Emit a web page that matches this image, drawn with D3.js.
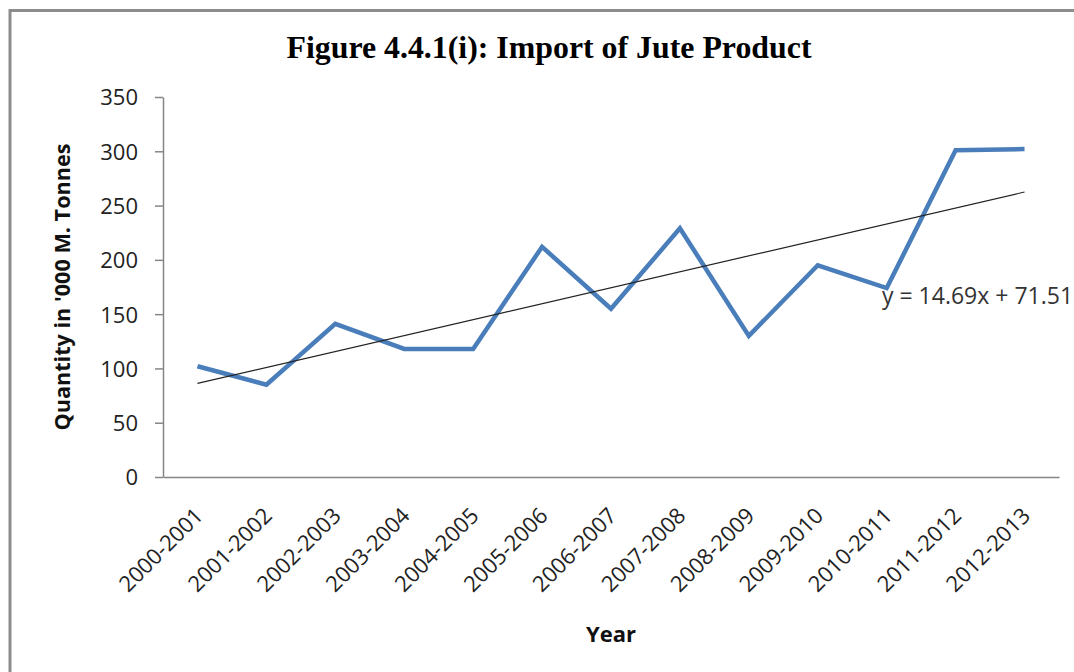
<!DOCTYPE html>
<html>
<head>
<meta charset="utf-8">
<script src="https://cdn.jsdelivr.net/npm/d3@7"></script>
<style>
body { margin: 0; background: #fff; }
svg { display: block; }
.axis path, .axis line { stroke: #868686; stroke-width: 1.5; }
.axis text { font-family: "Open Sans", sans-serif; font-size: 22px; fill: #222; }
</style>
</head>
<body>
<script>
(function(){

//chart data
var years = ["2000-2001","2001-2002","2002-2003","2003-2004","2004-2005","2005-2006","2006-2007",
             "2007-2008","2008-2009","2009-2010","2010-2011","2011-2012","2012-2013"];
var imports = [102, 85, 141, 118, 118, 212, 155, 229, 130, 195, 174, 301, 302];
var yTicks = [0, 50, 100, 150, 200, 250, 300, 350];
//linear trend as printed on the chart
var trendSlope = 14.69,
    trendIntercept = 71.51;

var width = 1074,
    height = 672,
    left = 163,
    right = 1059,
    top = 97,
    bottom = 477;

var svg = d3.select("body")
    .append("svg")
    .attr("width", width)
    .attr("height", height);

//outer frame
svg.append("rect")
    .attr("x", 10)
    .attr("y", 10.5)
    .attr("width", 1100)
    .attr("height", 700)
    .attr("fill", "none")
    .attr("stroke", "#8c8c8c")
    .attr("stroke-width", 3);

var x = d3.scaleBand()
    .domain(years)
    .range([left, right]);

var y = d3.scaleLinear()
    .domain([0, 350])
    .range([bottom, top]);

//y axis
var yAxis = svg.append("g")
    .attr("class", "axis")
    .attr("transform", "translate(" + left + ",0)")
    .call(d3.axisLeft(y).tickValues(yTicks).tickSize(8).tickSizeOuter(0).tickPadding(17));
yAxis.selectAll("text").attr("dy", "0.36em");

//x axis
var xAxis = svg.append("g")
    .attr("class", "axis")
    .attr("transform", "translate(0," + bottom + ")")
    .call(d3.axisBottom(x).tickSize(0).tickSizeOuter(0).tickFormat(""));

//x tick labels, rotated
svg.append("g")
    .selectAll("text")
    .data(years)
    .enter()
    .append("text")
    .attr("transform", function(d){
        return "translate(" + (x(d) + x.bandwidth() / 2 + 7) + "," + 517 + ") rotate(-45)";
    })
    .attr("text-anchor", "end")
    .attr("font-family", "Open Sans, sans-serif")
    .attr("font-size", 22)
    .attr("fill", "#222")
    .text(function(d){ return d; });

//data line
var line = d3.line()
    .x(function(d, i){ return x(years[i]) + x.bandwidth() / 2; })
    .y(function(d){ return y(d); });

svg.append("path")
    .datum(imports)
    .attr("d", line)
    .attr("fill", "none")
    .attr("stroke", "#4a7ebb")
    .attr("stroke-width", 4.5)
    .attr("stroke-linejoin", "miter");

//trend line
var trend = [1, years.length].map(function(n){ return trendSlope * n + trendIntercept; });
svg.append("line")
    .attr("x1", x(years[0]) + x.bandwidth() / 2)
    .attr("y1", y(trend[0]))
    .attr("x2", x(years[years.length - 1]) + x.bandwidth() / 2)
    .attr("y2", y(trend[1]))
    .attr("stroke", "#222")
    .attr("stroke-width", 1.2);

svg.append("text")
    .attr("x", 882)
    .attr("y", 304)
    .attr("font-family", "Open Sans, sans-serif")
    .attr("font-size", 23)
    .attr("fill", "#333")
    .text("y = " + trendSlope + "x + " + trendIntercept);

//title
svg.append("text")
    .attr("x", 549)
    .attr("y", 58)
    .attr("text-anchor", "middle")
    .attr("font-family", "Liberation Serif, serif")
    .attr("font-weight", "bold")
    .attr("font-size", 31)
    .attr("textLength", 525)
    .attr("lengthAdjust", "spacingAndGlyphs")
    .text("Figure 4.4.1(i): Import of Jute Product");

//axis titles
svg.append("text")
    .attr("transform", "translate(70," + ((top + bottom) / 2) + ") rotate(-90)")
    .attr("text-anchor", "middle")
    .attr("font-family", "Open Sans, sans-serif")
    .attr("font-weight", "bold")
    .attr("font-size", 21)
    .attr("textLength", 287)
    .attr("lengthAdjust", "spacingAndGlyphs")
    .attr("fill", "#111")
    .text("Quantity in '000 M. Tonnes");

svg.append("text")
    .attr("x", (left + right) / 2)
    .attr("y", 642)
    .attr("text-anchor", "middle")
    .attr("font-family", "Open Sans, sans-serif")
    .attr("font-weight", "bold")
    .attr("font-size", 22)
    .attr("fill", "#111")
    .text("Year");

})();
</script>
</body>
</html>
